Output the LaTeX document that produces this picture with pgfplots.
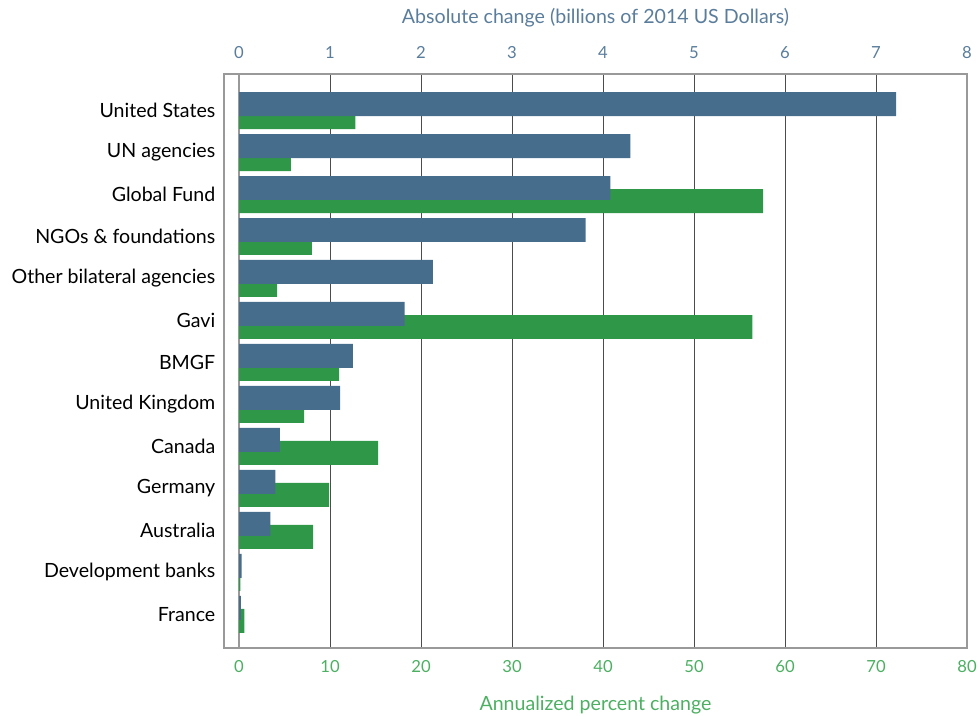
\documentclass[border=0pt]{standalone}
\usepackage{fontspec}
\setmainfont{Lato}
\usepackage{pgfplots}
\usepackage{pgfplotstable}
\pgfplotsset{compat=1.18}

\definecolor{barblue}{HTML}{476D8C}
\definecolor{bargreen}{HTML}{2E9848}
\definecolor{topblue}{HTML}{5A7D9C}
\definecolor{botgreen}{HTML}{4CAF62}

% pos: 12 = top row
\pgfplotstableread{
pos abs pct
12 7.22 12.8
11 4.30 5.7
10 4.08 57.6
9 3.81 8.0
8 2.13 4.2
7 1.82 56.4
6 1.25 11.0
5 1.11 7.15
4 0.45 15.3
3 0.40 9.9
2 0.345 8.15
1 0.03 0.15
0 0.02 0.6
}\datatable

\begin{document}
\begin{tikzpicture}
\pgfplotsset{
  common/.style={
    scale only axis,
    width=557.25pt, height=430.5pt,
    at={(168pt,50.25pt)}, anchor=south west,
    ymin=-0.80, ymax=12.87,
    major tick length=0pt,
    /pgf/number format/assume math mode=true,
    ticklabel style={font=\fontsize{12.5}{14}\selectfont},
  }
}
% green bars, bottom axis, frame and grid
\begin{axis}[
  common,
  xmin=-1.65, xmax=80,
  xtick={0,10,...,80},
  xtick pos=bottom, xticklabel pos=lower,
  xticklabel style={text=botgreen, yshift=-6pt},
  xlabel={Annualized percent change},
  xlabel style={text=botgreen, font=\fontsize{14.7}{17}\selectfont, yshift=-10.5pt},
  xmajorgrids,
  grid style={draw=black!70, line width=0.75pt},
  extra x ticks={0},
  extra x tick labels={},
  extra x tick style={grid style={draw=black!40, line width=1.2pt}},
  ytick={0,...,12},
  yticklabels={France,Development banks,Australia,Germany,Canada,United Kingdom,BMGF,Gavi,Other bilateral agencies,NGOs \& foundations,Global Fund,UN agencies,United States},
  yticklabel style={font=\fontsize{14.7}{17}\selectfont, xshift=-3pt},
  axis line style={draw=black!40, line width=1.1pt},
]
\addplot[xbar, bar width=0.571, bar shift=-0.155, fill=bargreen, draw=none]
  table[x=pct, y=pos] {\datatable};
\end{axis}
% blue bars, top axis
\begin{axis}[
  common,
  xmin=-0.165, xmax=8,
  xtick={0,1,...,8},
  axis x line*=top,
  axis y line=none,
  xticklabel pos=upper,
  xticklabel style={text=topblue, yshift=8pt},
  xlabel={Absolute change (billions of 2014 US Dollars)},
  xlabel style={text=topblue, font=\fontsize{14.7}{17}\selectfont, yshift=7.5pt},
  axis line style={draw=none},
]
\addplot[xbar, bar width=0.571, bar shift=0.155, fill=barblue, draw=none]
  table[x=abs, y=pos] {\datatable};
\end{axis}
\pgfresetboundingbox
\path[use as bounding box] (0,0) rectangle (733.5pt,536.25pt);
\end{tikzpicture}
\end{document}
